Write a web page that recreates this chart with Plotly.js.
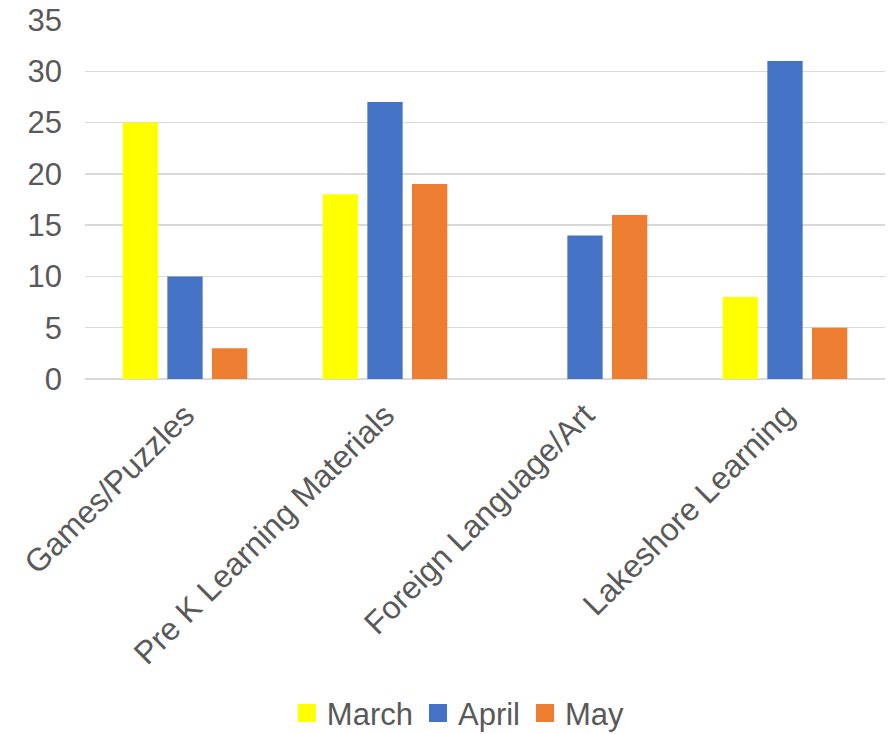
<!DOCTYPE html>
<html>
<head>
<meta charset="utf-8">
<script src="https://cdn.plot.ly/plotly-3.0.1.min.js"></script>
<style>html,body{margin:0;padding:0;background:#fff;}#chart{width:890px;height:734px;}</style>
</head>
<body>
<div id="chart"></div>
<script>
var categories = ["Games/Puzzles", "Pre K Learning Materials", "Foreign Language/Art", "Lakeshore Learning"];
var seriesNames = ["March", "April", "May"];
var march = [25, 18, 0, 8];
var april = [10, 27, 14, 31];
var may = [3, 19, 16, 5];
var yTicks = [0, 5, 10, 15, 20, 25, 30, 35];

var colors = ["#FFFF00", "#4472C4", "#ED7D31"];
var values = [march, april, may];
var data = values.map(function (v, i) {
  return {type: "bar", x: categories, y: v, name: seriesNames[i], marker: {color: colors[i]}, showlegend: false, hoverinfo: "y"};
});
// legend entries with larger square swatches
seriesNames.forEach(function (n, i) {
  data.push({type: "scatter", mode: "markers", x: [null], y: [null], name: n,
             marker: {symbol: "square", size: 16, color: colors[i], line: {width: 2, color: colors[i]}},
             showlegend: true, hoverinfo: "skip"});
});

var layout = {
  width: 890, height: 734,
  margin: {l: 85, r: 5, t: 20, b: 355},
  paper_bgcolor: "#fff", plot_bgcolor: "#fff",
  font: {family: "Liberation Sans, Arial, sans-serif", size: 31, color: "#595959"},
  barmode: "group", bargap: 0.33, bargroupgap: 0.21,
  xaxis: {tickangle: -45, showgrid: false, zeroline: false, showline: false, ticks: "",
          ticklabelstandoff: 10, tickfont: {size: 32, color: "#595959"}},
  yaxis: {range: [0, 35], tickvals: yTicks, showgrid: true, gridcolor: "#d9d9d9", gridwidth: 1.5,
          zeroline: true, zerolinecolor: "#d9d9d9", zerolinewidth: 1.5, showline: false, ticks: "",
          ticklabelstandoff: 22, tickfont: {size: 31, color: "#595959"}},
  showlegend: true,
  legend: {orientation: "h", xref: "container", yref: "container", x: 0.515, xanchor: "center", y: 0.028, yanchor: "middle",
           font: {size: 31, color: "#595959"}, itemwidth: 30, traceorder: "normal", itemsizing: "trace"}
};
Plotly.newPlot("chart", data, layout, {displayModeBar: false, staticPlot: true});
</script>
</body>
</html>
